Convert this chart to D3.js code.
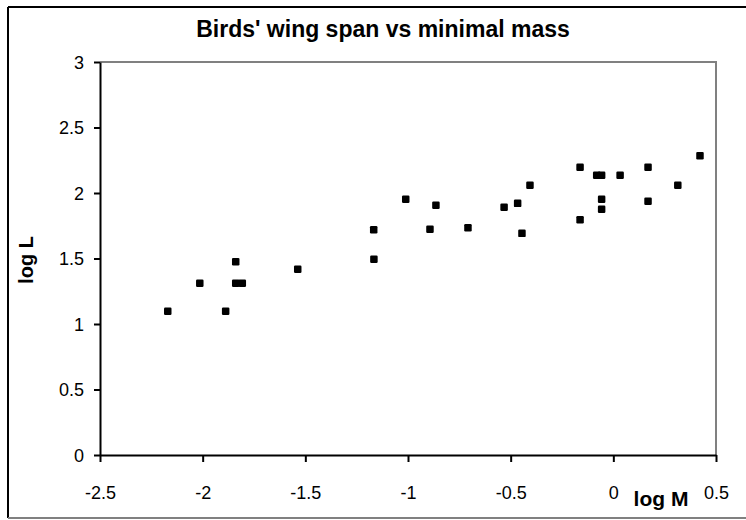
<!DOCTYPE html>
<html>
<head>
<meta charset="utf-8">
<script src="https://cdn.jsdelivr.net/npm/d3@7"></script>
<style>
  body { margin: 0; background: #fff; }
  text { font-family: "Liberation Sans", Arial, sans-serif; }
</style>
</head>
<body>
<div id="chart"></div>
<script>
// log M (x) and log L (y) of each bird
const logM = [-2.170, -2.014, -1.888, -1.839, -1.839, -1.807, -1.537, -1.166, -1.167, -1.011,
              -0.893, -0.864, -0.708, -0.532, -0.466, -0.445, -0.406, -0.162, -0.162, -0.081,
              -0.057, -0.057, -0.057, 0.033, 0.169, 0.169, 0.314, 0.422]
const logL = [1.097, 1.311, 1.097, 1.476, 1.311, 1.311, 1.418, 1.494, 1.720, 1.952,
              1.723, 1.906, 1.735, 1.891, 1.921, 1.692, 2.059, 2.196, 1.796, 2.135,
              2.135, 1.952, 1.876, 2.135, 2.196, 1.937, 2.059, 2.285]
const xTicks = [-2.5, -2, -1.5, -1, -0.5, 0, 0.5]
const yTicks = [0, 0.5, 1, 1.5, 2, 2.5, 3]

const width = 746, height = 520
const plot = {left: 100, right: 716, top: 62, bottom: 455}
const tickFont = 18

var svg = d3.select("#chart").append("svg")
    .attr("width", width)
    .attr("height", height)

// outer frame
svg.append("line").attr("x1", 8).attr("x2", 746).attr("y1", 7).attr("y2", 7)
    .attr("stroke", "#000").attr("stroke-width", 2)
svg.append("line").attr("x1", 8).attr("x2", 8).attr("y1", 7).attr("y2", 518)
    .attr("stroke", "#000").attr("stroke-width", 2)
svg.append("line").attr("x1", 8).attr("x2", 746).attr("y1", 518).attr("y2", 518)
    .attr("stroke", "#808080").attr("stroke-width", 2)

var x = d3.scaleLinear().domain([-2.5, 0.5]).range([plot.left, plot.right])
var y = d3.scaleLinear().domain([0, 3]).range([plot.bottom, plot.top])

// plot area border (top/right grey)
svg.append("path")
    .attr("d", `M${plot.left},${plot.top}H${plot.right}V${plot.bottom}`)
    .attr("fill", "none").attr("stroke", "#808080").attr("stroke-width", 2)

var xAxis = svg.append("g")
    .attr("transform", `translate(0,${plot.bottom})`)
    .call(d3.axisBottom(x).tickValues(xTicks).tickFormat(d => String(d)).tickSize(7).tickSizeOuter(0).tickPadding(24))
var yAxis = svg.append("g")
    .attr("transform", `translate(${plot.left},0)`)
    .call(d3.axisLeft(y).tickValues(yTicks).tickFormat(d => String(d)).tickSize(6).tickSizeOuter(0).tickPadding(10))

;[xAxis, yAxis].forEach(g => {
    g.select(".domain").attr("stroke", "#000").attr("stroke-width", 2)
    g.selectAll(".tick line").attr("stroke", "#000").attr("stroke-width", 2)
    g.selectAll(".tick text").attr("font-size", tickFont).attr("fill", "#000")
        .style("font-family", "'Liberation Sans', Arial, sans-serif")
})
yAxis.selectAll(".tick text").attr("dy", "0.35em")

// points
const sz = 7.5
svg.append("g").selectAll("rect")
    .data(logM.map((m, i) => [m, logL[i]]))
    .join("rect")
    .attr("x", d => x(d[0]) - sz / 2)
    .attr("y", d => y(d[1]) - sz / 2)
    .attr("width", sz).attr("height", sz)
    .attr("rx", 1.2)
    .attr("fill", "#000")

// title and axis labels
svg.append("text")
    .attr("x", 383).attr("y", 36.5)
    .attr("text-anchor", "middle")
    .attr("font-size", 23).attr("font-weight", "bold")
    .text("Birds' wing span vs minimal mass")

svg.append("text")
    .attr("transform", "translate(33,260) rotate(-90)")
    .attr("text-anchor", "middle")
    .attr("font-size", 20).attr("font-weight", "bold")
    .text("log L")

svg.append("text")
    .attr("x", 661).attr("y", 506)
    .attr("text-anchor", "middle")
    .attr("font-size", 21).attr("font-weight", "bold")
    .text("log M")
</script>
</body>
</html>
